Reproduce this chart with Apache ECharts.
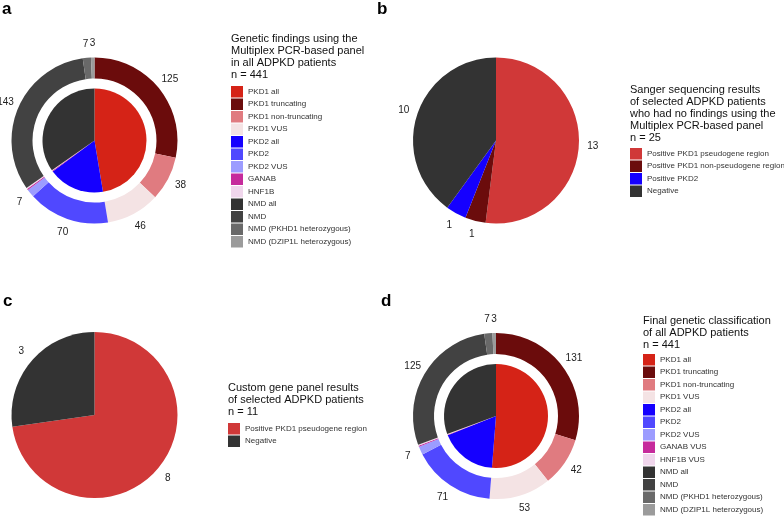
<!DOCTYPE html>
<html>
<head>
  <meta charset="UTF-8">
  <title>ADPKD genetic findings</title>
  <script type="text/javascript" src="https://cdn.jsdelivr.net/npm/echarts/dist/echarts.min.js"></script>
  <style>html, body { margin: 0; padding: 0; background: #fff; }</style>
</head>
<body>
<div id="chart" style="width:784px; height:518px;"></div>
<script>
  // ============ data ============
  // a: Multiplex PCR-based panel, n = 441
  const aInnerNames = ['PKD1 all', 'PKD2 all', 'GANAB', 'HNF1B', 'NMD all'];
  const aInnerValues = [209, 77, 1, 1, 153];
  const aOuterNames = ['PKD1 truncating', 'PKD1 non-truncating', 'PKD1 VUS', 'PKD2', 'PKD2 VUS',
    'GANAB', 'HNF1B', 'NMD', 'NMD (PKHD1 heterozygous)', 'NMD (DZIP1L heterozygous)'];
  const aOuterValues = [125, 38, 46, 70, 7, 1, 1, 143, 7, 3];
  const aLegend = ['PKD1 all', 'PKD1 truncating', 'PKD1 non-truncating', 'PKD1 VUS', 'PKD2 all', 'PKD2',
    'PKD2 VUS', 'GANAB', 'HNF1B', 'NMD all', 'NMD', 'NMD (PKHD1 heterozygous)', 'NMD (DZIP1L heterozygous)'];

  // b: Sanger sequencing, n = 25
  const bNames = ['Positive PKD1 pseudogene region', 'Positive PKD1 non-pseudogene region', 'Positive PKD2', 'Negative'];
  const bValues = [13, 1, 1, 10];

  // c: custom gene panel, n = 11
  const cNames = ['Positive PKD1 pseudogene region', 'Negative'];
  const cValues = [8, 3];

  // d: final classification, n = 441
  const dInnerNames = ['PKD1 all', 'PKD2 all', 'GANAB VUS', 'HNF1B VUS', 'NMD all'];
  const dInnerValues = [226, 78, 1, 1, 135];
  const dOuterNames = ['PKD1 truncating', 'PKD1 non-truncating', 'PKD1 VUS', 'PKD2', 'PKD2 VUS',
    'GANAB VUS', 'HNF1B VUS', 'NMD', 'NMD (PKHD1 heterozygous)', 'NMD (DZIP1L heterozygous)'];
  const dOuterValues = [131, 42, 53, 71, 7, 1, 1, 125, 7, 3];
  const dLegend = ['PKD1 all', 'PKD1 truncating', 'PKD1 non-truncating', 'PKD1 VUS', 'PKD2 all', 'PKD2',
    'PKD2 VUS', 'GANAB VUS', 'HNF1B VUS', 'NMD all', 'NMD', 'NMD (PKHD1 heterozygous)', 'NMD (DZIP1L heterozygous)'];

  // slices too thin to carry a number
  const noLabel = ['GANAB', 'HNF1B', 'GANAB VUS', 'HNF1B VUS'];

  // ============ style ============
  const colors = {
    'PKD1 all': '#d52317',
    'PKD1 truncating': '#6b0c0c',
    'PKD1 non-truncating': '#e07b80',
    'PKD1 VUS': '#f4e3e4',
    'PKD2 all': '#1500ff',
    'PKD2': '#5048ff',
    'PKD2 VUS': '#9c9cff',
    'GANAB': '#c62b9c',
    'GANAB VUS': '#c62b9c',
    'HNF1B': '#f0d6ec',
    'HNF1B VUS': '#f0d6ec',
    'NMD all': '#333333',
    'NMD': '#424242',
    'NMD (PKHD1 heterozygous)': '#696969',
    'NMD (DZIP1L heterozygous)': '#9b9b9b',
    'Positive PKD1 pseudogene region': '#d03838',
    'Positive PKD1 non-pseudogene region': '#6b0c0c',
    'Positive PKD2': '#1500ff',
    'Negative': '#333333'
  };
  const font = 'Liberation Sans, Arial, sans-serif';

  function slices(names, values) {
    return names.map((n, i) => ({name: n, value: values[i], itemStyle: {color: colors[n]}}));
  }

  function pie(center, radius, names, values) {
    return {
      type: 'pie', center: center, radius: radius, startAngle: 90, clockwise: true,
      silent: true, label: {show: false}, labelLine: {show: false},
      emphasis: {disabled: true}, data: slices(names, values)
    };
  }

  // invisible ring just outside a pie, only used to place the value labels
  function labels(center, names, values) {
    return {
      type: 'pie', center: center, radius: [89, 99], startAngle: 90, clockwise: true,
      silent: true, itemStyle: {color: 'rgba(0,0,0,0)'},
      label: {
        show: true, position: 'inside', fontSize: 10, color: '#222', fontFamily: font,
        formatter: p => noLabel.includes(p.name) ? '' : String(p.value)
      },
      labelLine: {show: false}, emphasis: {disabled: true},
      data: names.map((n, i) => ({name: n, value: values[i]}))
    };
  }

  function legend(left, top, names) {
    return {
      orient: 'vertical', left: left, top: top, padding: 0,
      itemWidth: 12, itemHeight: 11.5, itemGap: 1, icon: 'rect', selectedMode: false,
      textStyle: {fontSize: 8, color: '#333', fontFamily: font},
      data: names
    };
  }

  function letter(text, left, top) {
    return {text: text, left: left, top: top, padding: 0,
      textStyle: {fontSize: 17, fontWeight: 'bold', color: '#000', fontFamily: font}};
  }

  function heading(text, left, top) {
    return {text: text, left: left, top: top, padding: 0,
      textStyle: {fontSize: 11, lineHeight: 12, fontWeight: 'normal', color: '#111', fontFamily: font}};
  }

  const cA = [94.5, 140.5], cB = [496, 140.5], cC = [94.5, 415], cD = [496, 416];

  const chart = echarts.init(document.getElementById('chart'), null, {renderer: 'canvas'});
  chart.setOption({
    animation: false,
    title: [
      letter('a', 2, 1), letter('b', 377, 1), letter('c', 3, 293), letter('d', 381, 293),
      heading('Genetic findings using the\nMultiplex PCR-based panel\nin all ADPKD patients\nn = 441', 231, 33),
      heading('Sanger sequencing results\nof selected ADPKD patients\nwho had no findings using the\nMultiplex PCR-based panel\nn = 25', 630, 84),
      heading('Custom gene panel results\nof selected ADPKD patients\nn = 11', 228, 382),
      heading('Final genetic classification\nof all ADPKD patients\nn = 441', 643, 315)
    ],
    legend: [
      legend(231, 86, aLegend),
      legend(630, 148, bNames),
      legend(228, 423, cNames),
      legend(643, 354, dLegend)
    ],
    series: [
      pie(cA, [0, 52], aInnerNames, aInnerValues),
      pie(cA, [62, 83], aOuterNames, aOuterValues),
      pie(cB, [0, 83], bNames, bValues),
      pie(cC, [0, 83], cNames, cValues),
      pie(cD, [0, 52], dInnerNames, dInnerValues),
      pie(cD, [62, 83], dOuterNames, dOuterValues),
      labels(cA, aOuterNames, aOuterValues),
      labels(cB, bNames, bValues),
      labels(cC, cNames, cValues),
      labels(cD, dOuterNames, dOuterValues)
    ]
  });
</script>
</body>
</html>
